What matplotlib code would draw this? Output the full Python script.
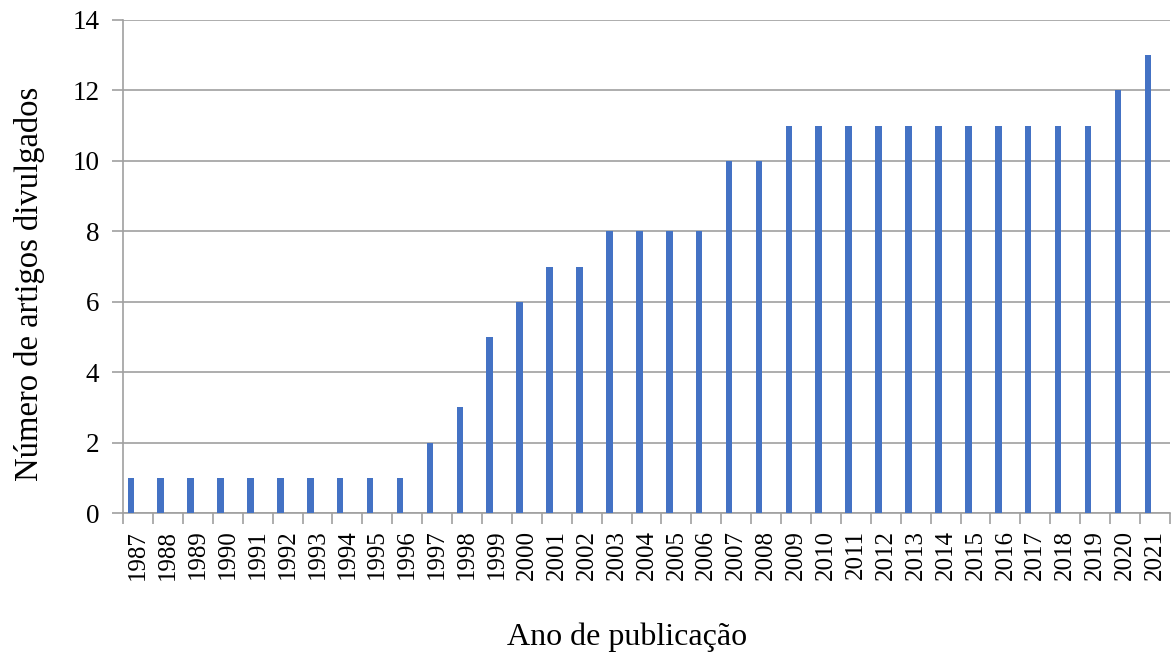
import numpy as np
import matplotlib
matplotlib.use('Agg')
import matplotlib.pyplot as plt

plt.rcParams['font.family'] = ['Liberation Serif', 'DejaVu Serif']

# Data
years = [str(y) for y in range(1987, 2022)]
artigos = [1, 1, 1, 1, 1, 1, 1, 1, 1, 1,
           2, 3, 5, 6, 7, 7, 8, 8, 8, 8,
           10, 10, 11, 11, 11, 11, 11, 11, 11, 11,
           11, 11, 11, 12, 13]
y_ticks = [0, 2, 4, 6, 8, 10, 12, 14]

fig = plt.figure(figsize=(11.73, 6.6), dpi=100)
ax = fig.add_axes([0.1049, 0.2227, 0.8925, 0.747])

x = np.arange(len(years))
ax.bar(x - 0.24, artigos, width=0.22, color='#4472C4', zorder=3)

ax.set_xlim(-0.5, len(years) - 0.5)
ax.set_ylim(0, 14)
ax.set_yticks(y_ticks)
ax.set_yticklabels([str(v) for v in y_ticks], fontsize=19.5)

# category labels centred, tick marks between categories
ax.set_xticks(x)
ax.set_xticklabels(years, rotation=90, fontsize=18)
ax.set_xticks(np.arange(-0.5, len(years)), minor=True)
ax.tick_params(axis='x', which='major', length=0, pad=12)
ax.tick_params(axis='x', which='minor', length=8, color='#A0A0A0', width=1.2)
ax.tick_params(axis='y', length=8, color='#A0A0A0', width=1.2, pad=9)

ax.grid(axis='y', color='#A0A0A0', linewidth=1.2, zorder=0)
for s in ['top', 'right']:
    ax.spines[s].set_visible(False)
for s in ['left', 'bottom']:
    ax.spines[s].set_color('#A0A0A0')
    ax.spines[s].set_linewidth(1.2)

ax.set_xlabel('Ano de publicação', fontsize=23)
ax.set_ylabel('Número de artigos divulgados', fontsize=23.5)
ax.xaxis.set_label_coords(0.4814, -0.222)
ax.yaxis.set_label_coords(-0.075, 0.464)

fig.savefig('out.png', dpi=100)
